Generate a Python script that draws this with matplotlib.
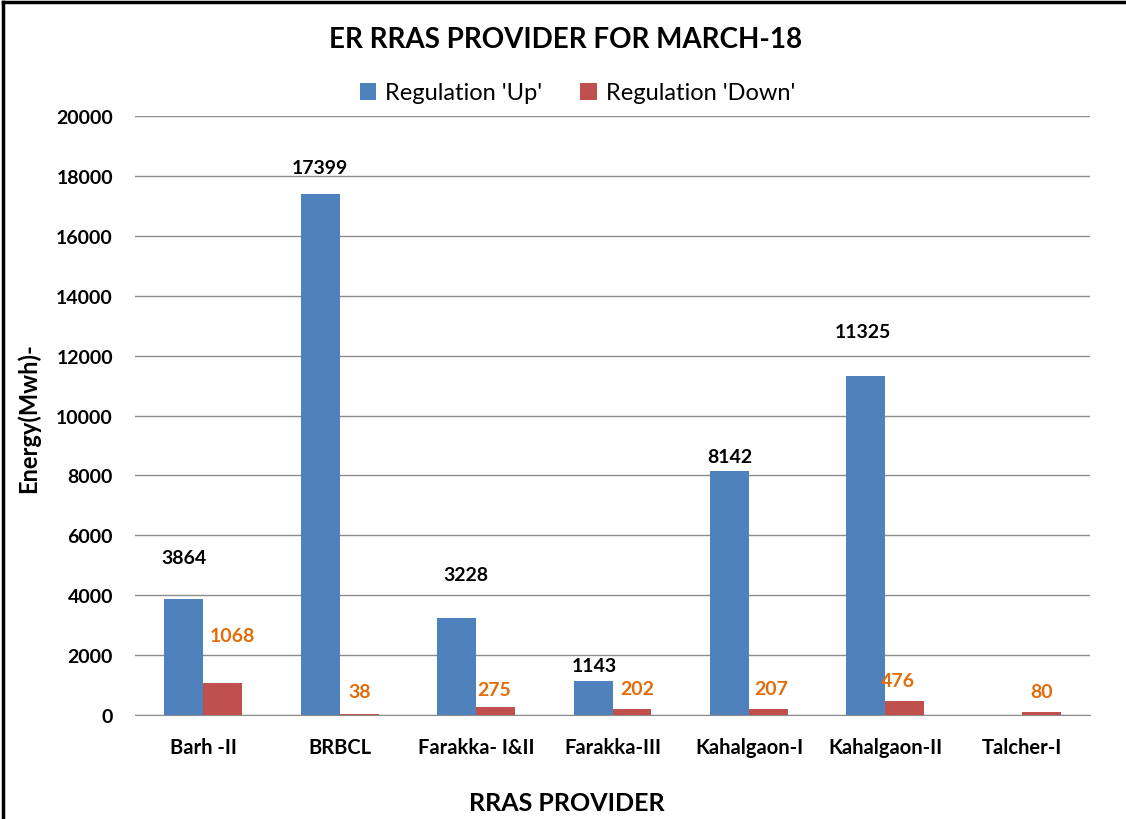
import matplotlib.pyplot as plt
import numpy as np
from matplotlib.lines import Line2D

providers = ['Barh -II', 'BRBCL', 'Farakka- I&II', 'Farakka-III',
             'Kahalgaon-I', 'Kahalgaon-II', 'Talcher-I']
reg_up = [3864, 17399, 3228, 1143, 8142, 11325, 0]
reg_down = [1068, 38, 275, 202, 207, 476, 80]

# label placement (the labels were dragged around by hand in the original)
up_dy = [1400, 900, 1450, 500, 500, 1470, 0]
down_dy = [1600, 730, 560, 666, 690, 660, 690]
up_dx = [0.0, 0.0, 0.07, 0.01, 0.0, -0.02, 0.0]
down_dx = [0.07, 0.0, -0.01, 0.04, 0.02, -0.05, 0.0]

blue = '#4F81BD'
red = '#C0504D'
orange = '#E36C0A'
grid_c = '#8C8C8C'

plt.rcParams['font.family'] = ['Lato', 'DejaVu Sans']

fig = plt.figure(figsize=(11.26, 8.2), dpi=100)
ax = fig.add_axes([0.12, 0.127, 0.848, 0.73])

x = np.arange(len(providers))
w = 0.285
b1 = ax.bar(x - w / 2, reg_up, w, color=blue, label="Regulation 'Up'", zorder=3)
b2 = ax.bar(x + w / 2, reg_down, w, color=red, label="Regulation 'Down'", zorder=3)

for i in range(len(providers)):
    if reg_up[i] > 0:
        ax.text(x[i] - w / 2 + up_dx[i], reg_up[i] + up_dy[i], str(reg_up[i]),
                ha='center', va='center', fontsize=14, fontweight='bold', color='black')
    ax.text(x[i] + w / 2 + down_dx[i], reg_down[i] + down_dy[i], str(reg_down[i]),
            ha='center', va='center', fontsize=14, fontweight='bold', color=orange)

ax.set_xlim(-0.5, len(providers) - 0.5)
ax.set_ylim(0, 20000)
ax.set_yticks(np.arange(0, 20001, 2000))
ax.set_xticks(x)
ax.set_xticklabels(providers)
ax.yaxis.grid(True, color=grid_c, linewidth=1)
ax.set_axisbelow(True)
for s in ['top', 'right', 'left']:
    ax.spines[s].set_visible(False)
ax.spines['bottom'].set_color(grid_c)
ax.tick_params(axis='both', length=0, labelsize=14)
ax.tick_params(axis='x', pad=16, labelsize=14.5)
ax.tick_params(axis='y', pad=16)
for lab in ax.get_xticklabels() + ax.get_yticklabels():
    lab.set_fontweight('bold')

ax.set_ylabel('Energy(Mwh)-', fontsize=17, fontweight='bold')
ax.yaxis.set_label_coords(-0.1, 0.497)
ax.set_xlabel('RRAS PROVIDER', fontsize=18, fontweight='bold')
ax.xaxis.set_label_coords(0.452, -0.128)

fig.text(0.502, 1 - 40 / 820, 'ER RRAS PROVIDER FOR MARCH-18', ha='center', va='center',
         fontsize=20, fontweight='bold')
fig.legend(handles=[b1, b2], loc='center', bbox_to_anchor=(0.513, 1 - 94 / 820), ncol=2,
           frameon=False, fontsize=17, handlelength=0.7, handleheight=0.7,
           handletextpad=0.4, columnspacing=1.6)

# chart border (only left and top edges visible in the crop)
fig.add_artist(Line2D([0.003, 0.003], [0.0, 0.996], transform=fig.transFigure,
                      color='black', linewidth=2.5))
fig.add_artist(Line2D([0.003, 1.0], [0.996, 0.996], transform=fig.transFigure,
                      color='black', linewidth=2.5))

fig.savefig('out.png', dpi=100)
